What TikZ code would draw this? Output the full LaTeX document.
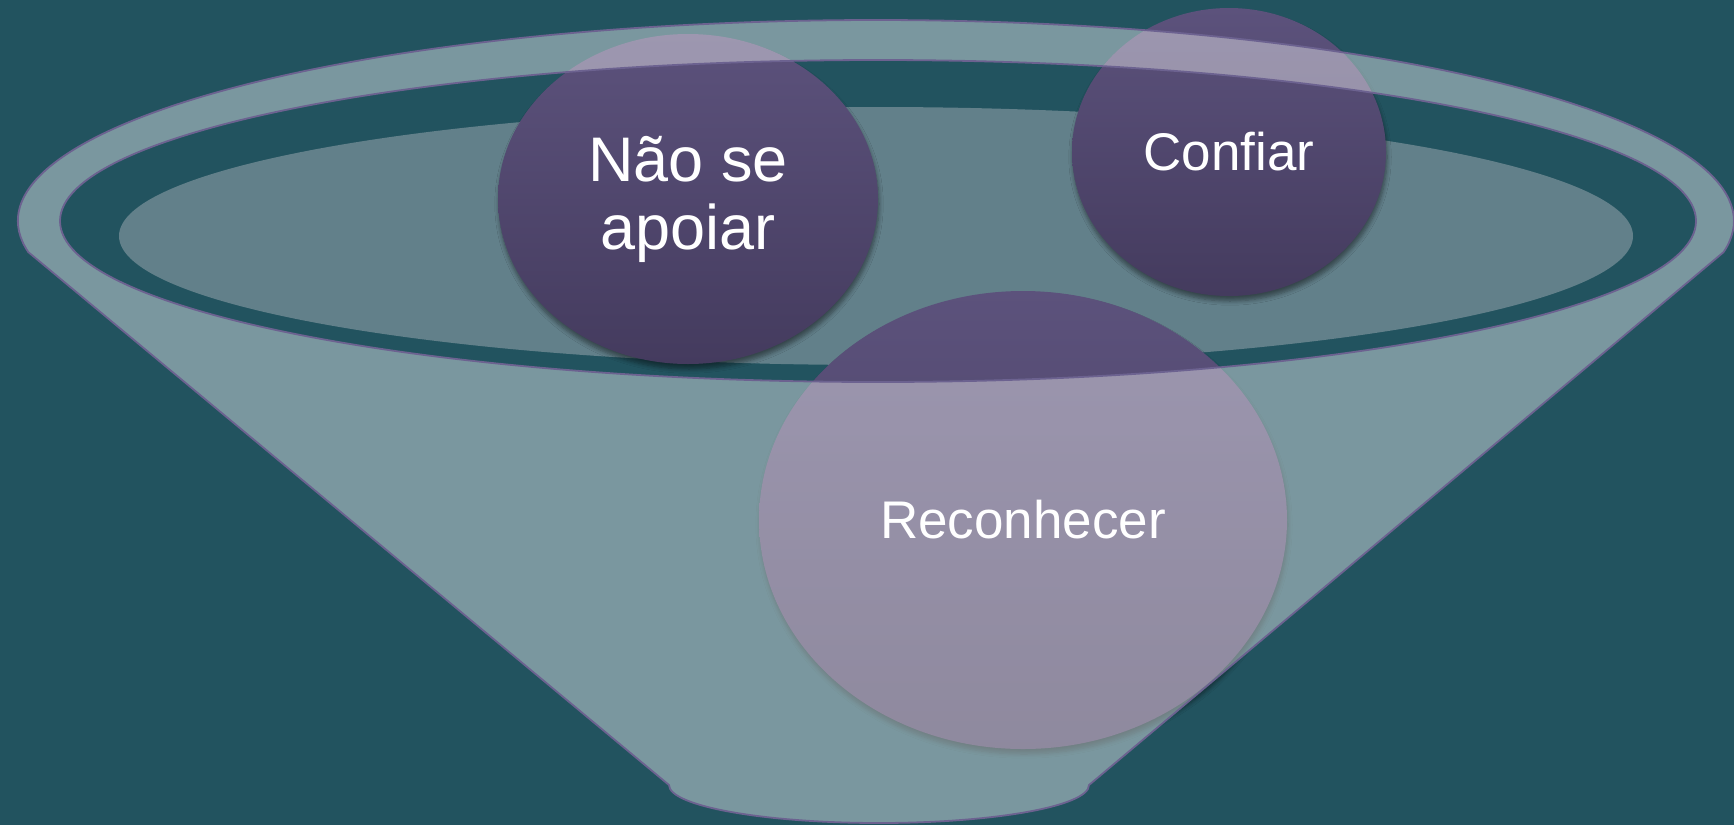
\documentclass[tikz,border=0pt]{standalone}
\usepackage{fontspec}
\setmainfont{Liberation Sans}
\usetikzlibrary{shapes.geometric,shadows.blur}

\definecolor{bgteal}{HTML}{22535F}
\definecolor{innerteal}{HTML}{62808A}
\definecolor{rimline}{HTML}{6C6290}
\definecolor{ballTop}{HTML}{5C527C}
\definecolor{ballBot}{HTML}{443B5E}

\tikzset{
  ball/.style={ellipse, inner sep=0pt, outer sep=0pt, align=center,
    top color=ballTop, bottom color=ballBot, text=white,
    blur shadow={shadow xshift=0.5pt, shadow yshift=-2.5pt,
      shadow blur steps=6, shadow opacity=45}},
}

\begin{document}
\begin{tikzpicture}
                [x=0.5pt,y=-0.5pt]

                \fill[bgteal] (0,0) rectangle (1734,825);
                \useasboundingbox (0,0) rectangle (1734,825);

                \coordinate (rim)  at (  877, 221);
                \coordinate (ring) at (  878, 221);
                \coordinate (bowl) at (  876, 236);
                \coordinate (topL) at ( 28.3, 252.1);
                \coordinate (tipL) at (  669, 785);
                \coordinate (tipR) at ( 1089, 785);

                % inner surface of the funnel
                \fill[innerteal] (bowl) ellipse [x radius=757, y radius=129];

                \node[ball, minimum width=190pt, minimum height=165pt,
                      font=\fontsize{31.5}{34}\selectfont] (apoiar) at (688,199) {Não se\\apoiar};
                \node[ball, minimum width=157pt, minimum height=144pt,
                      font=\fontsize{26.5}{28}\selectfont] (confiar) at (1229,152) {Confiar};
                \node[ball, minimum width=264pt, minimum height=229pt,
                      font=\fontsize{26.5}{28}\selectfont] (reconhecer) at (1023,520) {Reconhecer};

                % funnel body, laid over the balls
                \filldraw[fill=white, fill opacity=0.4, draw=rimline, line width=0.9pt, even odd rule]
                    (topL) arc [start angle=171.1, end angle=368.9, x radius=858, y radius=201]
                    -- (tipR) arc [start angle=0, end angle=180, x radius=210, y radius=38]
                    -- (tipL) -- cycle
                    (ring) ellipse [x radius=818, y radius=161];
            \end{tikzpicture}
\end{document}
